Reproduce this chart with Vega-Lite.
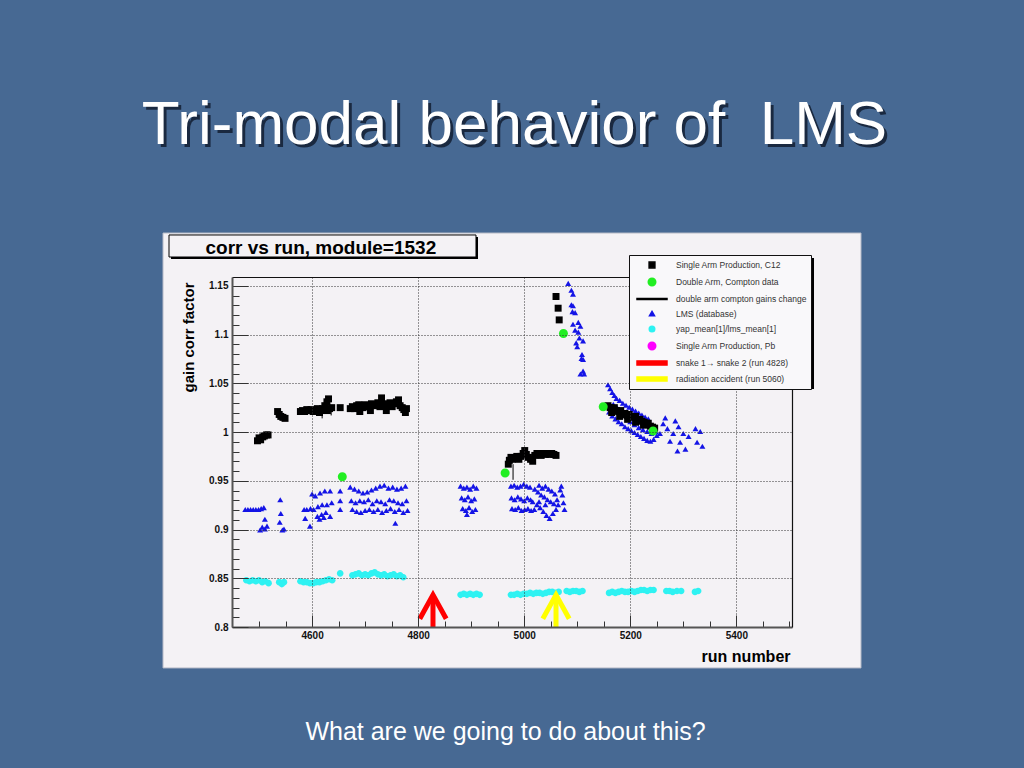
{
 "$schema": "https://vega.github.io/schema/vega-lite/v6.json",
 "width": 560,
 "height": 350,
 "autosize": {"type": "none"},
 "padding": {"left": 232, "top": 277, "right": 232, "bottom": 141},
 "background": "#476993",
 "config": {"view": {"stroke": null}, "font": "Liberation Sans"},
 "datasets": {
  "names": [
   {"k": "C", "series": "Single Arm Production, C12"},
   {"k": "D", "series": "Double Arm, Compton data"},
   {"k": "L", "series": "LMS (database)"},
   {"k": "Y", "series": "yap_mean[1]/lms_mean[1]"}
  ],
  "bars": [
   {"r": 4979, "lo": 0.951, "hi": 0.967},
   {"r": 4619, "lo": 1.014, "hi": 1.020},
   {"r": 4636, "lo": 1.017, "hi": 1.022}
  ],
  "arrows": [
   {"r": 4828, "lo": 0.8, "hi": 0.833, "series": "snake 1→ snake 2 (run 4828)"},
   {"r": 5060, "lo": 0.8, "hi": 0.833, "series": "radiation accident (run 5060)"}
  ],
  "pts": [
   {"r":4476,"c":0.848,"k":"Y"},{"r":4482,"c":0.847,"k":"Y"},{"r":4488,"c":0.848,"k":"Y"},{"r":4494,"c":0.847,"k":"Y"},{"r":4500,"c":0.848,"k":"Y"},{"r":4506,"c":0.846,"k":"Y"},{"r":4512,"c":0.847,"k":"Y"},{"r":4518,"c":0.845,"k":"Y"},
   {"r":4538,"c":0.846,"k":"Y"},{"r":4543,"c":0.844,"k":"Y"},{"r":4547,"c":0.846,"k":"Y"},
   {"r":4578,"c":0.847,"k":"Y"},{"r":4584,"c":0.846,"k":"Y"},{"r":4590,"c":0.846,"k":"Y"},{"r":4596,"c":0.845,"k":"Y"},{"r":4602,"c":0.845,"k":"Y"},{"r":4608,"c":0.846,"k":"Y"},{"r":4614,"c":0.846,"k":"Y"},{"r":4620,"c":0.847,"k":"Y"},{"r":4626,"c":0.848,"k":"Y"},{"r":4632,"c":0.849,"k":"Y"},{"r":4638,"c":0.848,"k":"Y"},
   {"r":4653,"c":0.855,"k":"Y"},
   {"r":4676,"c":0.853,"k":"Y"},{"r":4682,"c":0.854,"k":"Y"},{"r":4688,"c":0.855,"k":"Y"},{"r":4694,"c":0.853,"k":"Y"},{"r":4700,"c":0.854,"k":"Y"},{"r":4706,"c":0.853,"k":"Y"},{"r":4712,"c":0.855,"k":"Y"},{"r":4718,"c":0.856,"k":"Y"},{"r":4724,"c":0.854,"k":"Y"},{"r":4730,"c":0.853,"k":"Y"},{"r":4736,"c":0.854,"k":"Y"},{"r":4742,"c":0.852,"k":"Y"},{"r":4748,"c":0.853,"k":"Y"},{"r":4754,"c":0.854,"k":"Y"},{"r":4760,"c":0.852,"k":"Y"},{"r":4766,"c":0.853,"k":"Y"},{"r":4772,"c":0.851,"k":"Y"},
   {"r":4880,"c":0.833,"k":"Y"},{"r":4886,"c":0.834,"k":"Y"},{"r":4892,"c":0.833,"k":"Y"},{"r":4898,"c":0.834,"k":"Y"},{"r":4904,"c":0.833,"k":"Y"},{"r":4910,"c":0.834,"k":"Y"},{"r":4916,"c":0.833,"k":"Y"},
   {"r":4975,"c":0.833,"k":"Y"},{"r":4981,"c":0.833,"k":"Y"},{"r":4987,"c":0.834,"k":"Y"},{"r":4993,"c":0.833,"k":"Y"},{"r":4999,"c":0.834,"k":"Y"},{"r":5005,"c":0.834,"k":"Y"},{"r":5011,"c":0.835,"k":"Y"},{"r":5017,"c":0.834,"k":"Y"},{"r":5023,"c":0.835,"k":"Y"},{"r":5029,"c":0.835,"k":"Y"},{"r":5035,"c":0.834,"k":"Y"},{"r":5041,"c":0.835,"k":"Y"},{"r":5047,"c":0.836,"k":"Y"},{"r":5053,"c":0.836,"k":"Y"},{"r":5059,"c":0.835,"k":"Y"},{"r":5065,"c":0.836,"k":"Y"},
   {"r":5080,"c":0.837,"k":"Y"},{"r":5086,"c":0.836,"k":"Y"},{"r":5092,"c":0.837,"k":"Y"},{"r":5098,"c":0.837,"k":"Y"},{"r":5104,"c":0.836,"k":"Y"},{"r":5110,"c":0.837,"k":"Y"},
   {"r":5160,"c":0.835,"k":"Y"},{"r":5166,"c":0.836,"k":"Y"},{"r":5172,"c":0.835,"k":"Y"},{"r":5178,"c":0.836,"k":"Y"},{"r":5184,"c":0.837,"k":"Y"},{"r":5190,"c":0.836,"k":"Y"},{"r":5196,"c":0.836,"k":"Y"},{"r":5202,"c":0.837,"k":"Y"},{"r":5208,"c":0.836,"k":"Y"},{"r":5214,"c":0.837,"k":"Y"},{"r":5220,"c":0.838,"k":"Y"},{"r":5226,"c":0.838,"k":"Y"},{"r":5232,"c":0.837,"k":"Y"},{"r":5238,"c":0.838,"k":"Y"},{"r":5244,"c":0.838,"k":"Y"},
   {"r":5268,"c":0.837,"k":"Y"},{"r":5274,"c":0.837,"k":"Y"},{"r":5280,"c":0.836,"k":"Y"},{"r":5288,"c":0.837,"k":"Y"},{"r":5296,"c":0.837,"k":"Y"},
   {"r":5322,"c":0.836,"k":"Y"},{"r":5328,"c":0.837,"k":"Y"},

   {"r":4474,"c":0.920,"k":"L"},{"r":4479,"c":0.920,"k":"L"},{"r":4484,"c":0.920,"k":"L"},{"r":4489,"c":0.920,"k":"L"},{"r":4494,"c":0.920,"k":"L"},{"r":4499,"c":0.920,"k":"L"},{"r":4504,"c":0.921,"k":"L"},{"r":4509,"c":0.922,"k":"L"},
   {"r":4511,"c":0.910,"k":"L"},{"r":4511,"c":0.900,"k":"L"},{"r":4502,"c":0.899,"k":"L"},{"r":4515,"c":0.903,"k":"L"},{"r":4506,"c":0.902,"k":"L"},
   {"r":4540,"c":0.930,"k":"L"},{"r":4541,"c":0.916,"k":"L"},{"r":4539,"c":0.907,"k":"L"},{"r":4547,"c":0.900,"k":"L"},{"r":4544,"c":0.899,"k":"L"},
   {"r":4585,"c":0.920,"k":"L"},{"r":4587,"c":0.911,"k":"L"},{"r":4596,"c":0.903,"k":"L"},{"r":4600,"c":0.936,"k":"L"},{"r":4606,"c":0.934,"k":"L"},{"r":4615,"c":0.937,"k":"L"},{"r":4624,"c":0.939,"k":"L"},{"r":4634,"c":0.939,"k":"L"},{"r":4603,"c":0.920,"k":"L"},{"r":4611,"c":0.923,"k":"L"},{"r":4619,"c":0.925,"k":"L"},{"r":4628,"c":0.925,"k":"L"},{"r":4637,"c":0.927,"k":"L"},{"r":4610,"c":0.913,"k":"L"},{"r":4618,"c":0.915,"k":"L"},{"r":4626,"c":0.917,"k":"L"},{"r":4634,"c":0.913,"k":"L"},{"r":4597,"c":0.921,"k":"L"},{"r":4590,"c":0.920,"k":"L"},{"r":4614,"c":0.910,"k":"L"},{"r":4622,"c":0.912,"k":"L"},
   {"r":4653,"c":0.939,"k":"L"},{"r":4653,"c":0.929,"k":"L"},{"r":4653,"c":0.920,"k":"L"},
   {"r":4672,"c":0.943,"k":"L"},{"r":4680,"c":0.941,"k":"L"},{"r":4688,"c":0.939,"k":"L"},{"r":4696,"c":0.937,"k":"L"},{"r":4704,"c":0.938,"k":"L"},{"r":4712,"c":0.940,"k":"L"},{"r":4720,"c":0.942,"k":"L"},{"r":4728,"c":0.944,"k":"L"},{"r":4736,"c":0.945,"k":"L"},{"r":4744,"c":0.942,"k":"L"},{"r":4752,"c":0.943,"k":"L"},{"r":4760,"c":0.941,"k":"L"},{"r":4768,"c":0.942,"k":"L"},{"r":4776,"c":0.944,"k":"L"},
   {"r":4674,"c":0.929,"k":"L"},{"r":4682,"c":0.927,"k":"L"},{"r":4690,"c":0.929,"k":"L"},{"r":4698,"c":0.928,"k":"L"},{"r":4706,"c":0.930,"k":"L"},{"r":4714,"c":0.926,"k":"L"},{"r":4722,"c":0.929,"k":"L"},{"r":4730,"c":0.928,"k":"L"},{"r":4738,"c":0.926,"k":"L"},{"r":4746,"c":0.930,"k":"L"},{"r":4754,"c":0.929,"k":"L"},{"r":4762,"c":0.927,"k":"L"},{"r":4770,"c":0.926,"k":"L"},{"r":4778,"c":0.929,"k":"L"},
   {"r":4676,"c":0.920,"k":"L"},{"r":4684,"c":0.918,"k":"L"},{"r":4692,"c":0.917,"k":"L"},{"r":4700,"c":0.919,"k":"L"},{"r":4708,"c":0.920,"k":"L"},{"r":4716,"c":0.918,"k":"L"},{"r":4724,"c":0.920,"k":"L"},{"r":4732,"c":0.917,"k":"L"},{"r":4740,"c":0.919,"k":"L"},{"r":4748,"c":0.921,"k":"L"},{"r":4756,"c":0.918,"k":"L"},{"r":4764,"c":0.920,"k":"L"},{"r":4772,"c":0.917,"k":"L"},{"r":4780,"c":0.919,"k":"L"},
   {"r":4757,"c":0.906,"k":"L"},
   {"r":4880,"c":0.944,"k":"L"},{"r":4886,"c":0.942,"k":"L"},{"r":4892,"c":0.943,"k":"L"},{"r":4898,"c":0.941,"k":"L"},{"r":4904,"c":0.944,"k":"L"},{"r":4910,"c":0.942,"k":"L"},{"r":4882,"c":0.932,"k":"L"},{"r":4888,"c":0.930,"k":"L"},{"r":4894,"c":0.933,"k":"L"},{"r":4900,"c":0.929,"k":"L"},{"r":4906,"c":0.931,"k":"L"},{"r":4884,"c":0.921,"k":"L"},{"r":4890,"c":0.919,"k":"L"},{"r":4896,"c":0.922,"k":"L"},{"r":4902,"c":0.918,"k":"L"},{"r":4908,"c":0.920,"k":"L"},{"r":4892,"c":0.915,"k":"L"},
   {"r":4975,"c":0.944,"k":"L"},{"r":4981,"c":0.945,"k":"L"},{"r":4987,"c":0.943,"k":"L"},{"r":4993,"c":0.944,"k":"L"},{"r":4999,"c":0.946,"k":"L"},{"r":5005,"c":0.944,"k":"L"},{"r":5011,"c":0.943,"k":"L"},{"r":4976,"c":0.932,"k":"L"},{"r":4982,"c":0.930,"k":"L"},{"r":4988,"c":0.933,"k":"L"},{"r":4994,"c":0.931,"k":"L"},{"r":5000,"c":0.929,"k":"L"},{"r":5006,"c":0.932,"k":"L"},{"r":5012,"c":0.930,"k":"L"},{"r":4977,"c":0.921,"k":"L"},{"r":4983,"c":0.920,"k":"L"},{"r":4989,"c":0.922,"k":"L"},{"r":4995,"c":0.919,"k":"L"},{"r":5001,"c":0.920,"k":"L"},{"r":5007,"c":0.921,"k":"L"},{"r":5013,"c":0.919,"k":"L"},{"r":5019,"c":0.920,"k":"L"},{"r":5020,"c":0.941,"k":"L"},{"r":5026,"c":0.938,"k":"L"},{"r":5032,"c":0.935,"k":"L"},{"r":5038,"c":0.933,"k":"L"},{"r":5044,"c":0.930,"k":"L"},{"r":5050,"c":0.928,"k":"L"},{"r":5056,"c":0.926,"k":"L"},{"r":5028,"c":0.945,"k":"L"},{"r":5034,"c":0.942,"k":"L"},{"r":5040,"c":0.944,"k":"L"},{"r":5046,"c":0.941,"k":"L"},{"r":5052,"c":0.939,"k":"L"},{"r":5058,"c":0.936,"k":"L"},{"r":5024,"c":0.925,"k":"L"},{"r":5030,"c":0.922,"k":"L"},{"r":5036,"c":0.918,"k":"L"},{"r":5042,"c":0.914,"k":"L"},{"r":5048,"c":0.911,"k":"L"},{"r":5054,"c":0.916,"k":"L"},{"r":5060,"c":0.920,"k":"L"},{"r":5062,"c":0.930,"k":"L"},{"r":5064,"c":0.925,"k":"L"},{"r":5028,"c":0.928,"k":"L"},{"r":5040,"c":0.925,"k":"L"},{"r":5016,"c":0.928,"k":"L"},{"r":5068,"c":0.940,"k":"L"},{"r":5070,"c":0.944,"k":"L"},{"r":5072,"c":0.935,"k":"L"},{"r":5074,"c":0.927,"k":"L"},{"r":5076,"c":0.920,"k":"L"},
   {"r":5083,"c":1.152,"k":"L"},{"r":5089,"c":1.145,"k":"L"},{"r":5092,"c":1.141,"k":"L"},{"r":5089,"c":1.130,"k":"L"},{"r":5092,"c":1.129,"k":"L"},{"r":5091,"c":1.123,"k":"L"},{"r":5096,"c":1.122,"k":"L"},{"r":5102,"c":1.112,"k":"L"},{"r":5092,"c":1.110,"k":"L"},{"r":5106,"c":1.108,"k":"L"},{"r":5096,"c":1.104,"k":"L"},{"r":5102,"c":1.102,"k":"L"},{"r":5104,"c":1.096,"k":"L"},{"r":5111,"c":1.093,"k":"L"},{"r":5098,"c":1.091,"k":"L"},{"r":5100,"c":1.087,"k":"L"},{"r":5109,"c":1.079,"k":"L"},{"r":5108,"c":1.075,"k":"L"},{"r":5111,"c":1.074,"k":"L"},{"r":5106,"c":1.059,"k":"L"},{"r":5111,"c":1.062,"k":"L"},{"r":5113,"c":1.059,"k":"L"},
   {"r":5158,"c":1.048,"k":"L"},{"r":5162,"c":1.044,"k":"L"},{"r":5166,"c":1.040,"k":"L"},{"r":5170,"c":1.037,"k":"L"},{"r":5174,"c":1.034,"k":"L"},{"r":5180,"c":1.032,"k":"L"},{"r":5186,"c":1.029,"k":"L"},{"r":5192,"c":1.027,"k":"L"},{"r":5198,"c":1.025,"k":"L"},{"r":5204,"c":1.023,"k":"L"},{"r":5210,"c":1.021,"k":"L"},{"r":5216,"c":1.019,"k":"L"},{"r":5222,"c":1.017,"k":"L"},{"r":5228,"c":1.015,"k":"L"},{"r":5234,"c":1.013,"k":"L"},
   {"r":5160,"c":1.020,"k":"L"},{"r":5166,"c":1.016,"k":"L"},{"r":5172,"c":1.013,"k":"L"},{"r":5178,"c":1.010,"k":"L"},{"r":5184,"c":1.008,"k":"L"},{"r":5190,"c":1.005,"k":"L"},{"r":5196,"c":1.003,"k":"L"},{"r":5202,"c":1.001,"k":"L"},{"r":5208,"c":0.999,"k":"L"},{"r":5214,"c":0.997,"k":"L"},{"r":5220,"c":0.995,"k":"L"},{"r":5226,"c":0.993,"k":"L"},{"r":5232,"c":0.991,"k":"L"},{"r":5238,"c":0.990,"k":"L"},{"r":5244,"c":0.992,"k":"L"},{"r":5250,"c":0.996,"k":"L"},{"r":5256,"c":0.998,"k":"L"},
   {"r":5168,"c":1.028,"k":"L"},{"r":5176,"c":1.024,"k":"L"},{"r":5184,"c":1.020,"k":"L"},{"r":5192,"c":1.017,"k":"L"},{"r":5200,"c":1.010,"k":"L"},{"r":5208,"c":1.007,"k":"L"},{"r":5216,"c":1.004,"k":"L"},{"r":5224,"c":1.002,"k":"L"},{"r":5232,"c":1.000,"k":"L"},{"r":5240,"c":0.998,"k":"L"},{"r":5248,"c":1.000,"k":"L"},
   {"r":5266,"c":1.014,"k":"L"},{"r":5285,"c":1.011,"k":"L"},{"r":5270,"c":1.003,"k":"L"},{"r":5291,"c":1.005,"k":"L"},{"r":5275,"c":0.990,"k":"L"},{"r":5294,"c":0.989,"k":"L"},{"r":5289,"c":0.980,"k":"L"},{"r":5304,"c":0.982,"k":"L"},{"r":5323,"c":1.003,"k":"L"},{"r":5332,"c":1.000,"k":"L"},{"r":5326,"c":0.989,"k":"L"},{"r":5336,"c":0.985,"k":"L"},{"r":5300,"c":0.998,"k":"L"},{"r":5281,"c":0.998,"k":"L"},{"r":5262,"c":1.008,"k":"L"},{"r":5310,"c":0.995,"k":"L"},

   {"r":4497,"c":0.991,"k":"C"},{"r":4500,"c":0.994,"k":"C"},{"r":4503,"c":0.992,"k":"C"},{"r":4507,"c":0.995,"k":"C"},{"r":4510,"c":0.996,"k":"C"},{"r":4514,"c":0.997,"k":"C"},{"r":4517,"c":0.997,"k":"C"},
   {"r":4535,"c":1.021,"k":"C"},{"r":4538,"c":1.018,"k":"C"},{"r":4541,"c":1.016,"k":"C"},{"r":4545,"c":1.015,"k":"C"},{"r":4549,"c":1.014,"k":"C"},
   {"r":4578,"c":1.021,"k":"C"},{"r":4582,"c":1.022,"k":"C"},{"r":4586,"c":1.021,"k":"C"},{"r":4590,"c":1.023,"k":"C"},{"r":4594,"c":1.022,"k":"C"},{"r":4598,"c":1.023,"k":"C"},{"r":4602,"c":1.021,"k":"C"},{"r":4606,"c":1.022,"k":"C"},{"r":4610,"c":1.024,"k":"C"},{"r":4614,"c":1.020,"k":"C"},{"r":4617,"c":1.022,"k":"C"},{"r":4620,"c":1.024,"k":"C"},{"r":4624,"c":1.027,"k":"C"},{"r":4628,"c":1.031,"k":"C"},{"r":4631,"c":1.034,"k":"C"},{"r":4629,"c":1.022,"k":"C"},{"r":4633,"c":1.024,"k":"C"},{"r":4637,"c":1.025,"k":"C"},
   {"r":4653,"c":1.025,"k":"C"},
   {"r":4672,"c":1.024,"k":"C"},{"r":4676,"c":1.026,"k":"C"},{"r":4680,"c":1.024,"k":"C"},{"r":4684,"c":1.027,"k":"C"},{"r":4688,"c":1.028,"k":"C"},{"r":4692,"c":1.026,"k":"C"},{"r":4696,"c":1.025,"k":"C"},{"r":4700,"c":1.028,"k":"C"},{"r":4704,"c":1.027,"k":"C"},{"r":4708,"c":1.026,"k":"C"},{"r":4712,"c":1.029,"k":"C"},{"r":4716,"c":1.027,"k":"C"},{"r":4720,"c":1.028,"k":"C"},{"r":4724,"c":1.030,"k":"C"},{"r":4728,"c":1.026,"k":"C"},{"r":4731,"c":1.035,"k":"C"},{"r":4735,"c":1.029,"k":"C"},{"r":4739,"c":1.027,"k":"C"},{"r":4743,"c":1.028,"k":"C"},{"r":4747,"c":1.030,"k":"C"},{"r":4751,"c":1.026,"k":"C"},{"r":4755,"c":1.029,"k":"C"},{"r":4759,"c":1.031,"k":"C"},{"r":4763,"c":1.033,"k":"C"},{"r":4766,"c":1.027,"k":"C"},{"r":4770,"c":1.025,"k":"C"},{"r":4773,"c":1.023,"k":"C"},{"r":4776,"c":1.020,"k":"C"},{"r":4778,"c":1.024,"k":"C"},{"r":4690,"c":1.021,"k":"C"},{"r":4710,"c":1.022,"k":"C"},{"r":4740,"c":1.022,"k":"C"},
   {"r":4970,"c":0.967,"k":"C"},{"r":4972,"c":0.971,"k":"C"},{"r":4975,"c":0.974,"k":"C"},{"r":4978,"c":0.972,"k":"C"},{"r":4982,"c":0.973,"k":"C"},{"r":4986,"c":0.975,"k":"C"},{"r":4990,"c":0.972,"k":"C"},{"r":4994,"c":0.975,"k":"C"},{"r":4998,"c":0.978,"k":"C"},{"r":5001,"c":0.981,"k":"C"},{"r":5004,"c":0.977,"k":"C"},{"r":5008,"c":0.974,"k":"C"},{"r":5012,"c":0.972,"k":"C"},{"r":5016,"c":0.970,"k":"C"},{"r":5020,"c":0.976,"k":"C"},{"r":5024,"c":0.978,"k":"C"},{"r":5028,"c":0.977,"k":"C"},{"r":5032,"c":0.976,"k":"C"},{"r":5036,"c":0.978,"k":"C"},{"r":5040,"c":0.977,"k":"C"},{"r":5044,"c":0.978,"k":"C"},{"r":5048,"c":0.977,"k":"C"},{"r":5052,"c":0.978,"k":"C"},{"r":5056,"c":0.977,"k":"C"},{"r":5060,"c":0.976,"k":"C"},
   {"r":5060,"c":1.139,"k":"C"},{"r":5064,"c":1.127,"k":"C"},{"r":5066,"c":1.115,"k":"C"},
   {"r":5158,"c":1.027,"k":"C"},{"r":5162,"c":1.025,"k":"C"},{"r":5166,"c":1.024,"k":"C"},{"r":5170,"c":1.025,"k":"C"},{"r":5174,"c":1.022,"k":"C"},{"r":5178,"c":1.021,"k":"C"},{"r":5182,"c":1.022,"k":"C"},{"r":5186,"c":1.018,"k":"C"},{"r":5190,"c":1.019,"k":"C"},{"r":5194,"c":1.017,"k":"C"},{"r":5198,"c":1.018,"k":"C"},{"r":5202,"c":1.016,"k":"C"},{"r":5206,"c":1.015,"k":"C"},{"r":5210,"c":1.016,"k":"C"},{"r":5214,"c":1.012,"k":"C"},{"r":5218,"c":1.013,"k":"C"},{"r":5222,"c":1.011,"k":"C"},{"r":5226,"c":1.010,"k":"C"},{"r":5230,"c":1.009,"k":"C"},{"r":5234,"c":1.009,"k":"C"},{"r":5238,"c":1.006,"k":"C"},{"r":5242,"c":1.005,"k":"C"},{"r":5246,"c":1.004,"k":"C"},{"r":5165,"c":1.020,"k":"C"},{"r":5180,"c":1.016,"k":"C"},{"r":5195,"c":1.013,"k":"C"},{"r":5210,"c":1.010,"k":"C"},{"r":5225,"c":1.007,"k":"C"},

   {"r":4657,"c":0.954,"k":"D"},{"r":4964,"c":0.958,"k":"D"},{"r":5074,"c":1.101,"k":"D"},{"r":5149,"c":1.026,"k":"D"},{"r":5243,"c":1.001,"k":"D"}
  ]
 },
 "resolve": {"axis": {"x": "independent", "y": "independent"}},
 "layer": [
  {
   "data": {"values": [{}]},
   "mark": {"type": "rect", "clip": false, "fill": "#f4f2f5", "stroke": "#b8bcc8", "strokeWidth": 1},
   "encoding": {
    "x": {"datum": 4318.9, "type": "quantitative", "scale": {"domain": [4449, 5505], "nice": false, "zero": false}, "axis": null},
    "x2": {"datum": 5635.1},
    "y": {"datum": 1.2041, "type": "quantitative", "scale": {"domain": [0.8, 1.159], "nice": false, "zero": false}, "axis": null},
    "y2": {"datum": 0.758}
   }
  },
  {
   "data": {"values": [{}]},
   "mark": {"type": "rect", "clip": false, "fill": "#000000"},
   "encoding": {
    "x": {"datum": 4334.0, "type": "quantitative", "scale": {"domain": [4449, 5505], "nice": false, "zero": false}, "axis": null},
    "x2": {"datum": 4912.9},
    "y": {"datum": 1.2, "type": "quantitative", "scale": {"domain": [0.8, 1.159], "nice": false, "zero": false}, "axis": null},
    "y2": {"datum": 1.1774}
   }
  },
  {
   "data": {"values": [{}]},
   "mark": {"type": "rect", "clip": false, "fill": "#f4f2f5", "stroke": "#000000", "strokeWidth": 1},
   "encoding": {
    "x": {"datum": 4330.2, "type": "quantitative", "scale": {"domain": [4449, 5505], "nice": false, "zero": false}, "axis": null},
    "x2": {"datum": 4909.1},
    "y": {"datum": 1.2021, "type": "quantitative", "scale": {"domain": [0.8, 1.159], "nice": false, "zero": false}, "axis": null},
    "y2": {"datum": 1.1795}
   }
  },
  {
   "data": {"values": [{}]},
   "mark": {"type": "rect", "clip": false, "fill": "#000000"},
   "encoding": {
    "x": {"datum": 5203.3, "type": "quantitative", "scale": {"domain": [4449, 5505], "nice": false, "zero": false}, "axis": null},
    "x2": {"datum": 5546.5},
    "y": {"datum": 1.1785, "type": "quantitative", "scale": {"domain": [0.8, 1.159], "nice": false, "zero": false}, "axis": null},
    "y2": {"datum": 1.0441}
   }
  },
  {
   "data": {"name": "bars"},
   "mark": {"type": "rule", "color": "#000000", "strokeWidth": 1},
   "encoding": {
    "x": {"field": "r", "type": "quantitative", "scale": {"domain": [4449, 5505], "nice": false, "zero": false},
     "axis": {"orient": "top", "labels": false, "ticks": false, "grid": false, "domain": true, "domainColor": "#111111", "domainWidth": 1.2,
      "title": "corr vs run, module=1532", "titleX": -27, "titleY": -24, "titleAlign": "left", "titleBaseline": "alphabetic", "titleAngle": 0,
      "titleFont": "Liberation Sans", "titleFontSize": 19, "titleFontWeight": "bold", "titleColor": "#000000", "zindex": 1}},
    "y": {"field": "lo", "type": "quantitative", "scale": {"domain": [0.8, 1.159], "nice": false, "zero": false},
     "axis": {"orient": "right", "labels": false, "ticks": false, "grid": false, "domain": true, "domainColor": "#111111", "domainWidth": 1.2,
      "title": "What are we going to do about this?", "titleX": -287, "titleY": 462, "titleAlign": "center", "titleBaseline": "alphabetic", "titleAngle": 0,
      "titleFont": "Liberation Sans", "titleFontSize": 25, "titleFontWeight": "normal", "titleColor": "#ffffff", "zindex": 1}},
    "y2": {"field": "hi"}
   }
  },
  {
   "data": {"name": "pts"},
   "transform": [{"lookup": "k", "from": {"data": {"name": "names"}, "key": "k", "fields": ["series"]}}],
   "mark": {"type": "point", "filled": true, "opacity": 1, "size": 144},
   "encoding": {
    "x": {"field": "r", "type": "quantitative", "scale": {"domain": [4449, 5505], "nice": false, "zero": false},
     "axis": {"orient": "bottom", "values": [4500,4550,4600,4650,4700,4750,4800,4850,4900,4950,5000,5050,5100,5150,5200,5250,5300,5350,5400,5450,5500],
      "format": "d", "labelExpr": "datum.value % 200 === 0 ? datum.label : ''",
      "labelFont": "Liberation Sans", "labelFontSize": 10, "labelFontWeight": "bold", "labelColor": "#111111", "labelPadding": 15,
      "labelOverlap": false, "labelFlush": false, "labelBound": false,
      "tickSize": {"condition": {"test": "datum.value % 200 === 0", "value": -12}, "value": -6},
      "tickColor": "#333333", "tickWidth": 1,
      "grid": true, "gridDash": [1, 2], "gridColor": "#333333", "gridWidth": 1,
      "gridOpacity": {"condition": {"test": "datum.value % 200 === 0", "value": 1}, "value": 0},
      "domainColor": "#555555", "domainWidth": 2,
      "title": "run number", "titleX": 558, "titleY": 34, "titleAlign": "right", "titleBaseline": "alphabetic",
      "titleFont": "Liberation Sans", "titleFontSize": 16, "titleFontWeight": "bold", "titleColor": "#000000", "zindex": 1}},
    "y": {"field": "c", "type": "quantitative", "scale": {"domain": [0.8, 1.159], "nice": false, "zero": false},
     "axis": {"orient": "left", "values": [0.8,0.81,0.82,0.83,0.84,0.85,0.86,0.87,0.88,0.89,0.9,0.91,0.92,0.93,0.94,0.95,0.96,0.97,0.98,0.99,1,1.01,1.02,1.03,1.04,1.05,1.06,1.07,1.08,1.09,1.1,1.11,1.12,1.13,1.14,1.15],
      "format": ".2~f", "labelExpr": "abs(datum.value*20 - round(datum.value*20)) < 0.001 ? datum.label : ''",
      "labelFont": "Liberation Sans", "labelFontSize": 10, "labelFontWeight": "bold", "labelColor": "#111111", "labelPadding": 20,
      "labelOverlap": false, "labelFlush": false, "labelBound": false,
      "tickSize": {"condition": {"test": "abs(datum.value*20 - round(datum.value*20)) < 0.001", "value": -16}, "value": -7},
      "tickColor": "#333333", "tickWidth": 1,
      "grid": true, "gridDash": [1, 2], "gridColor": "#333333", "gridWidth": 1,
      "gridOpacity": {"condition": {"test": "abs(datum.value*20 - round(datum.value*20)) < 0.001", "value": 1}, "value": 0},
      "domainColor": "#555555", "domainWidth": 2,
      "title": "gain corr factor", "titleX": -36, "titleY": 5, "titleAlign": "right", "titleBaseline": "bottom", "titleAngle": 270,
      "titleFont": "Liberation Sans", "titleFontSize": 15, "titleFontWeight": "bold", "titleColor": "#000000", "zindex": 1}},
    "color": {"field": "series", "type": "nominal",
     "scale": {"domain": ["Single Arm Production, C12","Double Arm, Compton data","double arm compton gains change","LMS (database)","yap_mean[1]/lms_mean[1]","Single Arm Production, Pb","snake 1→ snake 2 (run 4828)","radiation accident (run 5060)"],
      "range": ["#000000","#22ee22","#000000","#1414e6","#2ef2f2","#ff00ff","#ff0000","#ffff00"]},
     "legend": {"title": null, "orient": "none", "legendX": 397, "legendY": -22, "fillColor": "#f9f8fa", "strokeColor": "#111111", "padding": 4,
      "labelFont": "Liberation Sans", "labelFontSize": 8.5, "labelColor": "#333333", "labelLimit": 300, "symbolOffset": 13, "labelOffset": 18, "rowPadding": 4, "zindex": 2}},
    "shape": {"field": "series", "type": "nominal",
     "scale": {"domain": ["Single Arm Production, C12","Double Arm, Compton data","double arm compton gains change","LMS (database)","yap_mean[1]/lms_mean[1]","Single Arm Production, Pb","snake 1→ snake 2 (run 4828)","radiation accident (run 5060)"],
      "range": ["M-0.58,-0.58H0.58V0.58H-0.58Z",
                "M-0.75,0A0.75,0.75,0,1,1,0.75,0A0.75,0.75,0,1,1,-0.75,0Z",
                "M-3,-0.1H3V0.1H-3Z",
                "M0,-0.5L0.5,0.35L-0.5,0.35Z",
                "M-0.55,0A0.55,0.55,0,1,1,0.55,0A0.55,0.55,0,1,1,-0.55,0Z",
                "M-0.75,0A0.75,0.75,0,1,1,0.75,0A0.75,0.75,0,1,1,-0.75,0Z",
                "M-3,-0.42H3V0.42H-3Z",
                "M-3,-0.42H3V0.42H-3Z"]},
     "legend": {"title": null, "orient": "none", "legendX": 397, "legendY": -22, "fillColor": "#f9f8fa", "strokeColor": "#111111", "padding": 4,
      "labelFont": "Liberation Sans", "labelFontSize": 8.5, "labelColor": "#333333", "labelLimit": 300, "symbolOffset": 13, "labelOffset": 18, "rowPadding": 4, "zindex": 2}}
   }
  },
  {
   "data": {"name": "arrows"},
   "mark": {"type": "rule", "strokeWidth": 5},
   "encoding": {
    "x": {"field": "r", "type": "quantitative", "scale": {"domain": [4449, 5505], "nice": false, "zero": false},
     "axis": {"orient": "top", "labels": false, "ticks": false, "grid": false, "domain": false,
      "title": "Tri-modal behavior of \u00a0LMS", "titleX": 285, "titleY": -131, "titleAlign": "center", "titleBaseline": "alphabetic", "titleAngle": 0,
      "titleFont": "Liberation Sans", "titleFontSize": 62, "titleFontWeight": "normal", "titleColor": "#1a2940", "zindex": 0}},
    "y": {"field": "lo", "type": "quantitative", "scale": {"domain": [0.8, 1.159], "nice": false, "zero": false}, "axis": null},
    "y2": {"field": "hi"},
    "color": {"field": "series", "type": "nominal", "legend": null,
     "scale": {"domain": ["Single Arm Production, C12","Double Arm, Compton data","double arm compton gains change","LMS (database)","yap_mean[1]/lms_mean[1]","Single Arm Production, Pb","snake 1→ snake 2 (run 4828)","radiation accident (run 5060)"],
      "range": ["#000000","#22ee22","#000000","#1414e6","#2ef2f2","#ff00ff","#ff0000","#ffff00"]}}
   }
  },
  {
   "data": {"name": "arrows"},
   "mark": {"type": "point", "filled": false, "opacity": 1, "strokeWidth": 5, "size": 144, "shape": "M-2.2,4L0,0L2.2,4"},
   "encoding": {
    "x": {"field": "r", "type": "quantitative", "scale": {"domain": [4449, 5505], "nice": false, "zero": false},
     "axis": {"orient": "top", "labels": false, "ticks": false, "grid": false, "domain": false,
      "title": "Tri-modal behavior of \u00a0LMS", "titleX": 282, "titleY": -134, "titleAlign": "center", "titleBaseline": "alphabetic", "titleAngle": 0,
      "titleFont": "Liberation Sans", "titleFontSize": 62, "titleFontWeight": "normal", "titleColor": "#ffffff", "zindex": 1}},
    "y": {"field": "hi", "type": "quantitative", "scale": {"domain": [0.8, 1.159], "nice": false, "zero": false}, "axis": null},
    "color": {"field": "series", "type": "nominal", "legend": null,
     "scale": {"domain": ["Single Arm Production, C12","Double Arm, Compton data","double arm compton gains change","LMS (database)","yap_mean[1]/lms_mean[1]","Single Arm Production, Pb","snake 1→ snake 2 (run 4828)","radiation accident (run 5060)"],
      "range": ["#000000","#22ee22","#000000","#1414e6","#2ef2f2","#ff00ff","#ff0000","#ffff00"]}}
   }
  }
 ]
}
